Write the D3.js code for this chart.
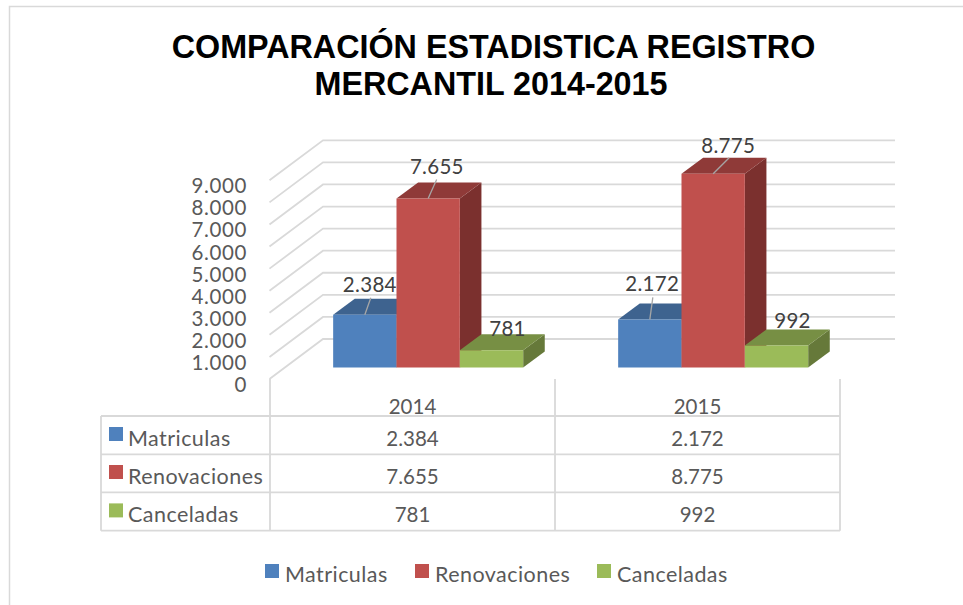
<!DOCTYPE html>
<html><head><meta charset="utf-8">
<script src="https://cdn.jsdelivr.net/npm/d3@7"></script>
<style>html,body{margin:0;padding:0;background:#fff}svg{display:block}</style>
</head><body><div id="c"></div>
<script>
const titleLines = ["COMPARACIÓN ESTADISTICA REGISTRO", "MERCANTIL 2014-2015"];
const years = ["2014", "2015"];
const seriesNames = ["Matriculas", "Renovaciones", "Canceladas"];
const matriculas = [2384, 2172];
const renovaciones = [7655, 8775];
const canceladas = [781, 992];
const yTicks = [0,1000,2000,3000,4000,5000,6000,7000,8000,9000];

const allValues = [matriculas, renovaciones, canceladas];
const frontColors = ["#4F81BD","#C0504D","#9BBB59"];
const topColors = ["#3E638F","#8F3A38","#778F44"];
const sideColors = ["#325076","#7B302E","#66793A"];
const fmt = v => d3.format(",")(v).replace(/,/g, ".");

const W = 963, H = 605;
const FONT = "Lato, 'Open Sans', sans-serif";
const svg = d3.select("#c").append("svg").attr("width", W).attr("height", H);
const GRID = "#D9D9D9", TXT = "#595959", LBL = "#404040";

// 3D frame
const depthX = 54, depthY = 40;
const zFront = 0.29, zBack = 0.69;
const x0 = d3.scaleBand().domain(years).range([270, 840]);
const x1 = d3.scaleBand().domain(seriesNames).range([47.5, 237.5]);
const y = d3.scaleLinear().domain([0, 9000]).range([379, 180.3]);
const P = (x, v, z) => [x + z * depthX, y(v) - z * depthY];
const poly = pts => pts.map(p => p.join(",")).join(" ");

// chart frame
svg.append("path").attr("d", `M9.5,${H} V6.5 H${W}`).attr("fill","none").attr("stroke",GRID).attr("stroke-width",1.5);

// title
const titleDx = [0, -2.5];
svg.append("g").selectAll("text").data(titleLines).join("text")
  .attr("x", (d,i) => 493.5 + titleDx[i]).attr("y", (d,i) => 57.5 + i*37.5)
  .attr("text-anchor","middle").attr("font-family","'Liberation Sans', Arial, sans-serif")
  .attr("font-weight","bold").attr("font-size",32.3).attr("fill","#000").text(d => d);

// gridlines: diagonal wall + back wall
const xL = x0.range()[0], xR = x0.range()[1];
const gridG = svg.append("g").attr("fill","none").attr("stroke",GRID).attr("stroke-width",1.8);
gridG.selectAll("polyline").data(yTicks).join("polyline")
  .attr("points", d => poly([P(xL-0.5,d,0), P(xL-1,d,1), P(xR+1,d,1)]));

// y tick labels
svg.append("g").selectAll("text").data(yTicks).join("text")
  .attr("x", 247).attr("y", d => y(d) + 13)
  .attr("text-anchor","end").attr("font-family",FONT).attr("font-size",20.5)
  .attr("letter-spacing",0.6).attr("fill",TXT)
  .text(d => d === 0 ? "0" : fmt(d));

// bars
const labelOff = [[[5,-23],[2.4,-28.6]],[[8.7,-24],[15,-21]],[[16,-14],[16,-17.5]]];
const leader = [[[6,-17],[3,-22]],[[8.5,-19],[16,-16]],null];
years.forEach((yr, yi) => {
  seriesNames.forEach((s, si) => {
    const v = allValues[si][yi];
    const xa = x0(yr) + x1(s), xb = xa + x1.bandwidth();
    const g = svg.append("g");
    g.append("polygon").attr("fill",sideColors[si])
      .attr("points", poly([P(xb,0,zFront),P(xb,0,zBack),P(xb,v,zBack),P(xb,v,zFront)]));
    g.append("polygon").attr("fill",topColors[si])
      .attr("points", poly([P(xa,v,zFront),P(xb,v,zFront),P(xb,v,zBack),P(xa,v,zBack)]));
    g.append("polygon").attr("fill",frontColors[si])
      .attr("points", poly([P(xa,0,zFront),P(xb,0,zFront),P(xb,v,zFront),P(xa,v,zFront)]));
  });
});
// data labels and leaders on top
years.forEach((yr, yi) => {
  seriesNames.forEach((s, si) => {
    const v = allValues[si][yi];
    const top = P(x0(yr) + x1(s) + x1.bandwidth()/2, v, zFront);
    const off = labelOff[si][yi];
    if (leader[si]) {
      const l = leader[si][yi];
      svg.append("line").attr("x1",top[0]).attr("y1",top[1]).attr("x2",top[0]+l[0]).attr("y2",top[1]+l[1])
        .attr("stroke","#A6A6A6").attr("stroke-width",1.3);
    }
    svg.append("text").attr("x",top[0]+off[0]).attr("y",top[1]+off[1])
      .attr("text-anchor","middle").attr("font-family",FONT).attr("font-size",20.5)
      .attr("letter-spacing",0.3).attr("fill",LBL).text(fmt(v));
  });
});

// data table
const rowLines = [416, 454.3, 492.3, 530.7];
const t = svg.append("g");
const tl = t.append("g").attr("stroke",GRID).attr("stroke-width",1.8);
rowLines.forEach(yy => tl.append("line").attr("x1",101).attr("x2",xR).attr("y1",yy).attr("y2",yy));
tl.append("line").attr("x1",101).attr("x2",101).attr("y1",416).attr("y2",530.7);
[xL, x0("2015"), xR].forEach(xx => tl.append("line").attr("x1",xx).attr("x2",xx).attr("y1",379).attr("y2",530.7));
years.forEach(yr => {
  t.append("text").attr("x",x0(yr)+x0.bandwidth()/2).attr("y",413.5).attr("text-anchor","middle")
    .attr("font-family",FONT).attr("font-size",20.5).attr("fill",TXT).text(yr);
});
seriesNames.forEach((s, si) => {
  const base = rowLines[si+1] - 8.3;
  t.append("rect").attr("x",109).attr("y",base-19).attr("width",14).attr("height",14).attr("fill",frontColors[si]);
  t.append("text").attr("x",128).attr("y",base).attr("font-family",FONT).attr("font-size",21.5)
    .attr("letter-spacing",0.45).attr("fill",TXT).text(s);
  years.forEach((yr, yi) => {
    t.append("text").attr("x",x0(yr)+x0.bandwidth()/2).attr("y",base).attr("text-anchor","middle")
      .attr("font-family",FONT).attr("font-size",20.5).attr("fill",TXT).text(fmt(allValues[si][yi]));
  });
});

// legend
const legendX = [265, 415, 597];
seriesNames.forEach((s, si) => {
  svg.append("rect").attr("x",legendX[si]).attr("y",564).attr("width",14).attr("height",14).attr("fill",frontColors[si]);
  svg.append("text").attr("x",legendX[si]+20).attr("y",581.7).attr("font-family",FONT).attr("font-size",21.5)
    .attr("letter-spacing",0.45).attr("fill",TXT).text(s);
});
</script></body></html>
